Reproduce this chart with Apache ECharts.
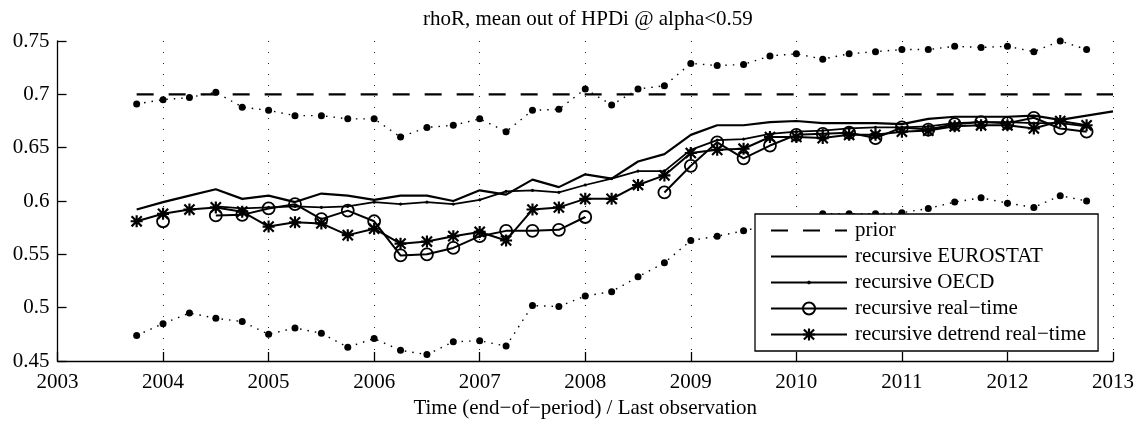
<!DOCTYPE html>
<html>
<head>
<meta charset="utf-8">
<script src="https://cdn.jsdelivr.net/npm/echarts@6/dist/echarts.min.js"></script>
<style>
html,body{margin:0;padding:0;background:#fff;}
#chart{width:1138px;height:424px;}
</style>
</head>
<body>
<div id="chart"></div>
<script>
// ---- data ----
const quarters = [2003.75, 2004, 2004.25, 2004.5, 2004.75, 2005, 2005.25, 2005.5, 2005.75, 2006,
  2006.25, 2006.5, 2006.75, 2007, 2007.25, 2007.5, 2007.75, 2008, 2008.25, 2008.5,
  2008.75, 2009, 2009.25, 2009.5, 2009.75, 2010, 2010.25, 2010.5, 2010.75, 2011,
  2011.25, 2011.5, 2011.75, 2012, 2012.25, 2012.5, 2012.75, 2013];
const xTicks = [2003, 2004, 2005, 2006, 2007, 2008, 2009, 2010, 2011, 2012, 2013];
const yTicks = [0.45, 0.5, 0.55, 0.6, 0.65, 0.7, 0.75];

const prior = [0.7, 0.7, 0.7, 0.7, 0.7, 0.7, 0.7, 0.7, 0.7, 0.7,
  0.7, 0.7, 0.7, 0.7, 0.7, 0.7, 0.7, 0.7, 0.7, 0.7,
  0.7, 0.7, 0.7, 0.7, 0.7, 0.7, 0.7, 0.7, 0.7, 0.7,
  0.7, 0.7, 0.7, 0.7, 0.7, 0.7, 0.7, 0.7];
const eurostat = [0.592, 0.599, 0.605, 0.611, 0.602, 0.605, 0.599, 0.607, 0.605, 0.601,
  0.605, 0.605, 0.600, 0.610, 0.606, 0.620, 0.613, 0.625, 0.621, 0.637,
  0.644, 0.662, 0.671, 0.671, 0.674, 0.675, 0.673, 0.673, 0.673, 0.672,
  0.677, 0.679, 0.679, 0.679, 0.680, 0.676, 0.680, 0.684];
const oecd = [null, null, null, 0.595, 0.593, 0.594, 0.595, 0.594, 0.595, 0.599,
  0.597, 0.599, 0.597, 0.601, 0.609, 0.610, 0.608, 0.615, 0.621, 0.628,
  0.628, 0.648, 0.657, 0.658, 0.663, 0.665, 0.666, 0.668, 0.669, 0.669,
  0.670, 0.673, 0.674, 0.674, 0.673, 0.673, 0.670, null];
const realTime = [null, 0.581, null, 0.5865, 0.587, 0.593, 0.597, 0.583, 0.591, 0.581,
  0.549, 0.550, 0.556, 0.567, 0.572, 0.572, 0.573, 0.585, null, null,
  0.608, 0.633, 0.655, 0.640, 0.652, 0.662, 0.663, 0.664, 0.659, 0.669,
  0.667, 0.672, 0.674, 0.673, 0.678, 0.668, 0.665, null];
const detrend = [0.581, 0.588, 0.592, 0.594, 0.590, 0.576, 0.580, 0.579, 0.568, 0.574,
  0.560, 0.562, 0.567, 0.571, 0.563, 0.592, 0.594, 0.602, 0.602, 0.615,
  0.624, 0.645, 0.648, 0.649, 0.660, 0.660, 0.659, 0.662, 0.662, 0.665,
  0.666, 0.670, 0.671, 0.671, 0.668, 0.675, 0.671, null];
const hpdUpper = [0.691, 0.695, 0.697, 0.702, 0.688, 0.685, 0.680, 0.680, 0.677, 0.677,
  0.660, 0.669, 0.671, 0.677, 0.665, 0.685, 0.686, 0.705, 0.690, 0.705,
  0.708, 0.729, 0.727, 0.728, 0.736, 0.738, 0.733, 0.738, 0.740, 0.742,
  0.742, 0.745, 0.744, 0.745, 0.740, 0.750, 0.742, null];
const hpdLower = [0.474, 0.485, 0.495, 0.490, 0.487, 0.475, 0.481, 0.476, 0.463, 0.471,
  0.460, 0.456, 0.468, 0.469, 0.464, 0.502, 0.501, 0.511, 0.515, 0.529,
  0.542, 0.563, 0.567, 0.572, 0.578, 0.583, 0.588, 0.588, 0.588, 0.589,
  0.593, 0.599, 0.603, 0.598, 0.594, 0.605, 0.600, null];

const titleText = 'rhoR, mean out of HPDi @ alpha<0.59';
const xName = 'Time (end\u2212of\u2212period) / Last observation';
const names = ['prior', 'recursive EUROSTAT', 'recursive OECD',
  'recursive real\u2212time', 'recursive detrend real\u2212time'];

// ---- chart ----
const FONT = '"Liberation Serif", "Times New Roman", serif';
const pairs = arr => quarters.map((t, i) => [t, arr[i] === null ? '-' : arr[i]]);
const STAR = 'path://M0 8.2L20 8.2L20 11.8L0 11.8Z M8.2 0L11.8 0L11.8 20L8.2 20Z ' +
  'M2.77 0.23L19.77 17.23L17.23 19.77L0.23 2.77Z M17.23 0.23L19.77 2.77L2.77 19.77L0.23 17.23Z';
const SMALLDOT = 'path://M0 0 M10 10 M6.6 5L6.13 6.13L5 6.6L3.87 6.13L3.4 5L3.87 3.87L5 3.4L6.13 3.87Z';
const CLEAR = 'rgba(0,0,0,0)';

const chart = echarts.init(document.getElementById('chart'), null, {renderer: 'canvas'});
const base = {type: 'line', animation: false, silent: true, connectNulls: false,
  emphasis: {disabled: true}};
const hpdStyle = {
  lineStyle: {color: '#000', width: 1.4, type: [1.5, 6]},
  symbol: 'circle', symbolSize: 7, itemStyle: {color: '#000'}
};

chart.setOption({
  backgroundColor: '#fff',
  animation: false,
  textStyle: {fontFamily: FONT, color: '#000'},
  title: {
    text: titleText, left: 418, top: 4,
    textStyle: {fontFamily: FONT, fontSize: 21, fontWeight: 'normal', color: '#000'}
  },
  grid: {left: 57.5, right: 25, top: 41, bottom: 60.5, containLabel: false},
  legend: {
    data: names, orient: 'vertical', left: 755, top: 214,
    padding: [6, 12, 6, 15], itemGap: 5, itemWidth: 76, itemHeight: 15,
    borderColor: '#000', borderWidth: 1.3, backgroundColor: '#fff',
    selectedMode: false,
    textStyle: {fontFamily: FONT, fontSize: 21, color: '#000', padding: [0, 0, 0, 3]}
  },
  xAxis: {
    type: 'value', min: xTicks[0], max: xTicks[xTicks.length - 1], interval: 1,
    name: xName, nameLocation: 'middle', nameGap: 37,
    nameTextStyle: {fontFamily: FONT, fontSize: 21, color: '#000'},
    axisLine: {show: true, onZero: false, lineStyle: {color: '#000', width: 1.3}},
    axisTick: {show: true, inside: true, length: 9, lineStyle: {color: '#000', width: 1.3}},
    axisLabel: {fontFamily: FONT, fontSize: 21, color: '#000', margin: 11,
      formatter: v => String(v)},
    splitLine: {show: true, lineStyle: {color: '#222', width: 1, type: [1, 10]}}
  },
  yAxis: {
    type: 'value', min: yTicks[0], max: yTicks[yTicks.length - 1], interval: 0.05,
    axisLine: {show: true, onZero: false, lineStyle: {color: '#000', width: 1.3}},
    axisTick: {show: true, inside: true, length: 9, lineStyle: {color: '#000', width: 1.3}},
    axisLabel: {fontFamily: FONT, fontSize: 21, color: '#000', margin: 8},
    splitLine: {show: false}
  },
  series: [
    Object.assign({}, base, {
      name: names[0], data: pairs(prior), symbol: 'circle', showSymbol: false, z: 3,
      lineStyle: {color: '#000', width: 2.2, type: [17, 15]},
      itemStyle: {color: CLEAR, borderWidth: 0}
    }),
    Object.assign({}, base, {
      name: names[1], data: pairs(eurostat), symbol: 'circle', showSymbol: false, z: 3,
      lineStyle: {color: '#000', width: 2.2},
      itemStyle: {color: CLEAR, borderWidth: 0}
    }),
    Object.assign({}, base, {
      name: names[2], data: pairs(oecd), symbol: SMALLDOT, symbolSize: 10, z: 3,
      lineStyle: {color: '#000', width: 1.8}, itemStyle: {color: '#000'}
    }),
    Object.assign({}, base, {
      name: names[3], data: pairs(realTime), symbol: 'circle', symbolSize: 12, z: 4,
      lineStyle: {color: '#000', width: 2},
      itemStyle: {color: CLEAR, borderColor: '#000', borderWidth: 1.8}
    }),
    Object.assign({}, base, {
      name: names[4], data: pairs(detrend), symbol: STAR, symbolSize: 12, z: 4,
      lineStyle: {color: '#000', width: 2}, itemStyle: {color: '#000'}
    }),
    Object.assign({}, base, hpdStyle, {name: 'HPDi upper', data: pairs(hpdUpper), z: 2}),
    Object.assign({}, base, hpdStyle, {name: 'HPDi lower', data: pairs(hpdLower), z: 2})
  ]
});
</script>
</body>
</html>
